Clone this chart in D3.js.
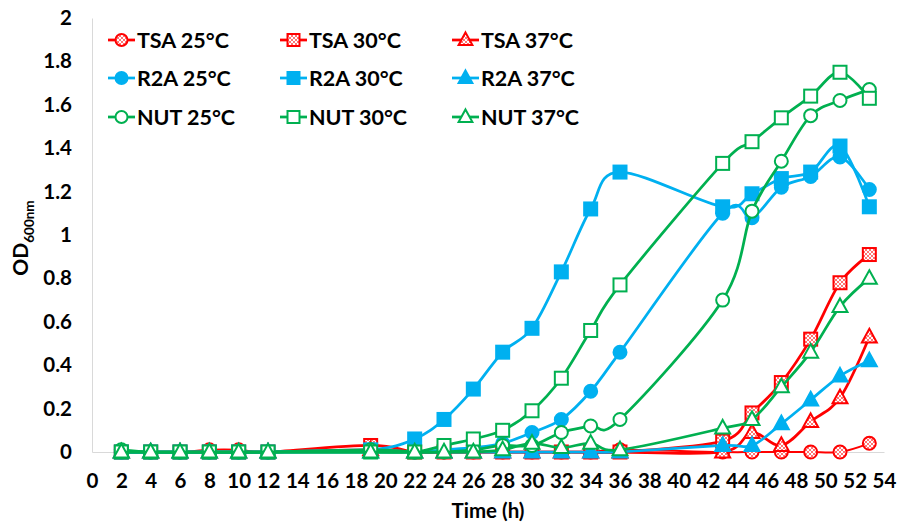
<!DOCTYPE html>
<html>
<head>
<meta charset="utf-8">
<script src="https://cdn.jsdelivr.net/npm/d3@7/dist/d3.min.js"></script>
<style>
  html, body { margin: 0; padding: 0; background: #fff; }
  svg { display: block; font-family: Lato, "Open Sans", sans-serif; font-weight: bold; }
</style>
</head>
<body>
<svg id="chart" width="898" height="529"></svg>
<script>
// ---- data ----
const times = [2, 4, 6, 8, 10, 12, 19, 22, 24, 26, 28, 30, 32, 34, 36, 43, 45, 47, 49, 51, 53];
const tsa25 = [0, 0, 0, 0.01, 0.01, 0, 0.01, 0, 0, 0, 0, 0, 0, 0, 0.01, 0, 0, 0, 0, 0, 0.04];
const tsa30 = [0, 0, 0, 0, 0, 0, 0.03, 0, 0, 0, 0, 0, 0, 0, 0, 0.05, 0.18, 0.32, 0.52, 0.78, 0.91];
const tsa37 = [0, 0, 0, 0, 0, 0, 0.01, 0, 0, 0, 0, 0, 0, 0, 0, 0, 0.09, 0.03, 0.14, 0.25, 0.53];
const r2a25 = [0, 0, 0, 0, 0, 0, 0.01, 0, 0.01, 0.02, 0.04, 0.09, 0.15, 0.28, 0.46, 1.10, 1.08, 1.22, 1.27, 1.36, 1.21];
const r2a30 = [0, 0, 0, 0, 0, 0, 0.01, 0.06, 0.15, 0.29, 0.46, 0.57, 0.83, 1.12, 1.29, 1.13, 1.19, 1.26, 1.29, 1.41, 1.13];
const r2a37 = [0, 0, 0, 0, 0, 0, 0, 0, 0, 0, 0, 0, 0, 0, 0, 0.03, 0.03, 0.13, 0.24, 0.35, 0.42];
const nut25 = [0.01, 0, 0, 0, 0, 0, 0.01, 0, 0, 0.01, 0.03, 0.03, 0.09, 0.12, 0.15, 0.70, 1.11, 1.34, 1.55, 1.62, 1.67];
const nut30 = [0, 0, 0, 0, 0, 0, 0, 0, 0.03, 0.06, 0.10, 0.19, 0.34, 0.56, 0.77, 1.33, 1.43, 1.54, 1.64, 1.75, 1.63];
const nut37 = [0, 0, 0, 0, 0, 0, 0, 0, 0, 0, 0.01, 0.04, 0.02, 0.04, 0.01, 0.11, 0.15, 0.30, 0.46, 0.67, 0.80];

const seriesNames = ["TSA 25°C", "TSA 30°C", "TSA 37°C", "R2A 25°C", "R2A 30°C", "R2A 37°C", "NUT 25°C", "NUT 30°C", "NUT 37°C"];
const seriesValues = [tsa25, tsa30, tsa37, r2a25, r2a30, r2a37, nut25, nut30, nut37];
const xTicks = d3.range(0, 56, 2);
const yTicks = [0, 0.2, 0.4, 0.6, 0.8, 1, 1.2, 1.4, 1.6, 1.8, 2];

// ---- styles ----
const RED = "#FF0000", BLUE = "#00B0F0", GREEN = "#00B050";
const styles = [
  {color: RED, shape: "circle", fill: "url(#hatch)"},
  {color: RED, shape: "square", fill: "url(#hatch)"},
  {color: RED, shape: "triangle", fill: "url(#hatch)"},
  {color: BLUE, shape: "circle", fill: BLUE},
  {color: BLUE, shape: "square", fill: BLUE},
  {color: BLUE, shape: "triangle", fill: BLUE},
  {color: GREEN, shape: "circle", fill: "#fff"},
  {color: GREEN, shape: "square", fill: "#fff"},
  {color: GREEN, shape: "triangle", fill: "#fff"}
];

const svg = d3.select("#chart");
const defs = svg.append("defs");
const pat = defs.append("pattern").attr("id", "hatch").attr("patternUnits", "userSpaceOnUse")
  .attr("width", 4).attr("height", 4);
pat.append("rect").attr("width", 4).attr("height", 4).attr("fill", "#fff");
pat.append("path").attr("d", "M0,0L4,4M4,0L0,4").attr("stroke", "#ff5050").attr("stroke-width", 0.8);

const x = d3.scaleLinear().domain([0, 54]).range([92, 884]);
const y = d3.scaleLinear().domain([0, 2]).range([452, 18]);

// axes
const yAxis = svg.append("g").attr("transform", `translate(${x(0)},0)`)
  .call(d3.axisLeft(y).tickValues(yTicks).tickSize(0).tickPadding(20).tickFormat(d => String(d)));
yAxis.select(".domain").attr("stroke", "#d9d9d9");
yAxis.selectAll("text").attr("font-size", 20.5).attr("fill", "#000").attr("font-family", "Lato").attr("font-weight", "bold");

const xAxis = svg.append("g").attr("transform", `translate(0,${y(0)})`)
  .call(d3.axisBottom(x).tickValues(xTicks).tickSize(0).tickPadding(21).tickFormat(d => String(d)));
xAxis.select(".domain").attr("stroke", "#d9d9d9");
xAxis.selectAll("text").attr("font-size", 20.5).attr("fill", "#000").attr("font-family", "Lato").attr("font-weight", "bold");

// axis titles
svg.append("text").attr("x", (x(0) + x(54)) / 2).attr("y", 518).attr("text-anchor", "middle")
  .attr("font-size", 20.5).text("Time (h)");
const yt = svg.append("text").attr("transform", "translate(28,238) rotate(-90)").attr("text-anchor", "middle")
  .attr("font-size", 21);
yt.append("tspan").text("OD");
yt.append("tspan").attr("font-size", 13.5).attr("dy", 6).text("600nm");

// marker drawing
function drawMarker(g, shape, cx, cy, st, size) {
  const s = size;
  let m;
  if (shape === "circle") {
    m = g.append("circle").attr("cx", cx).attr("cy", cy).attr("r", s / 2);
  } else if (shape === "square") {
    m = g.append("rect").attr("x", cx - s / 2).attr("y", cy - s / 2).attr("width", s).attr("height", s);
  } else {
    const w = s * 1.15, h = s * 1.05;
    m = g.append("path").attr("d", `M${cx},${cy - h * 0.6}L${cx + w / 2},${cy + h * 0.4}L${cx - w / 2},${cy + h * 0.4}Z`);
  }
  m.attr("fill", st.fill).attr("stroke", st.color).attr("stroke-width", 2);
}

const line = d3.line().x(d => x(d[0])).y(d => y(d[1])).curve(d3.curveCardinal.tension(0));
const plot = svg.append("g");
seriesValues.forEach((vals, i) => {
  const st = styles[i];
  const pts = times.map((t, j) => [t, vals[j]]);
  const g = plot.append("g");
  g.append("path").datum(pts).attr("d", line).attr("fill", "none")
    .attr("stroke", st.color).attr("stroke-width", i === 0 ? 2 : 2.75);
  pts.forEach(p => drawMarker(g, st.shape, x(p[0]), y(p[1]), st, 13));
});

// legend
const legX = [108, 280, 452];
const legY = [40, 78, 117];
seriesNames.forEach((name, i) => {
  const st = styles[i];
  const lx = legX[i % 3], ly = legY[Math.floor(i / 3)];
  const g = svg.append("g");
  g.append("line").attr("x1", lx).attr("x2", lx + 27).attr("y1", ly).attr("y2", ly)
    .attr("stroke", st.color).attr("stroke-width", 2.75);
  drawMarker(g, st.shape, lx + 13.5, ly, st, 12);
  g.append("text").attr("x", lx + 29).attr("y", ly).attr("dy", "0.35em")
    .attr("font-size", 21.5).text(name);
});
</script>
</body>
</html>
